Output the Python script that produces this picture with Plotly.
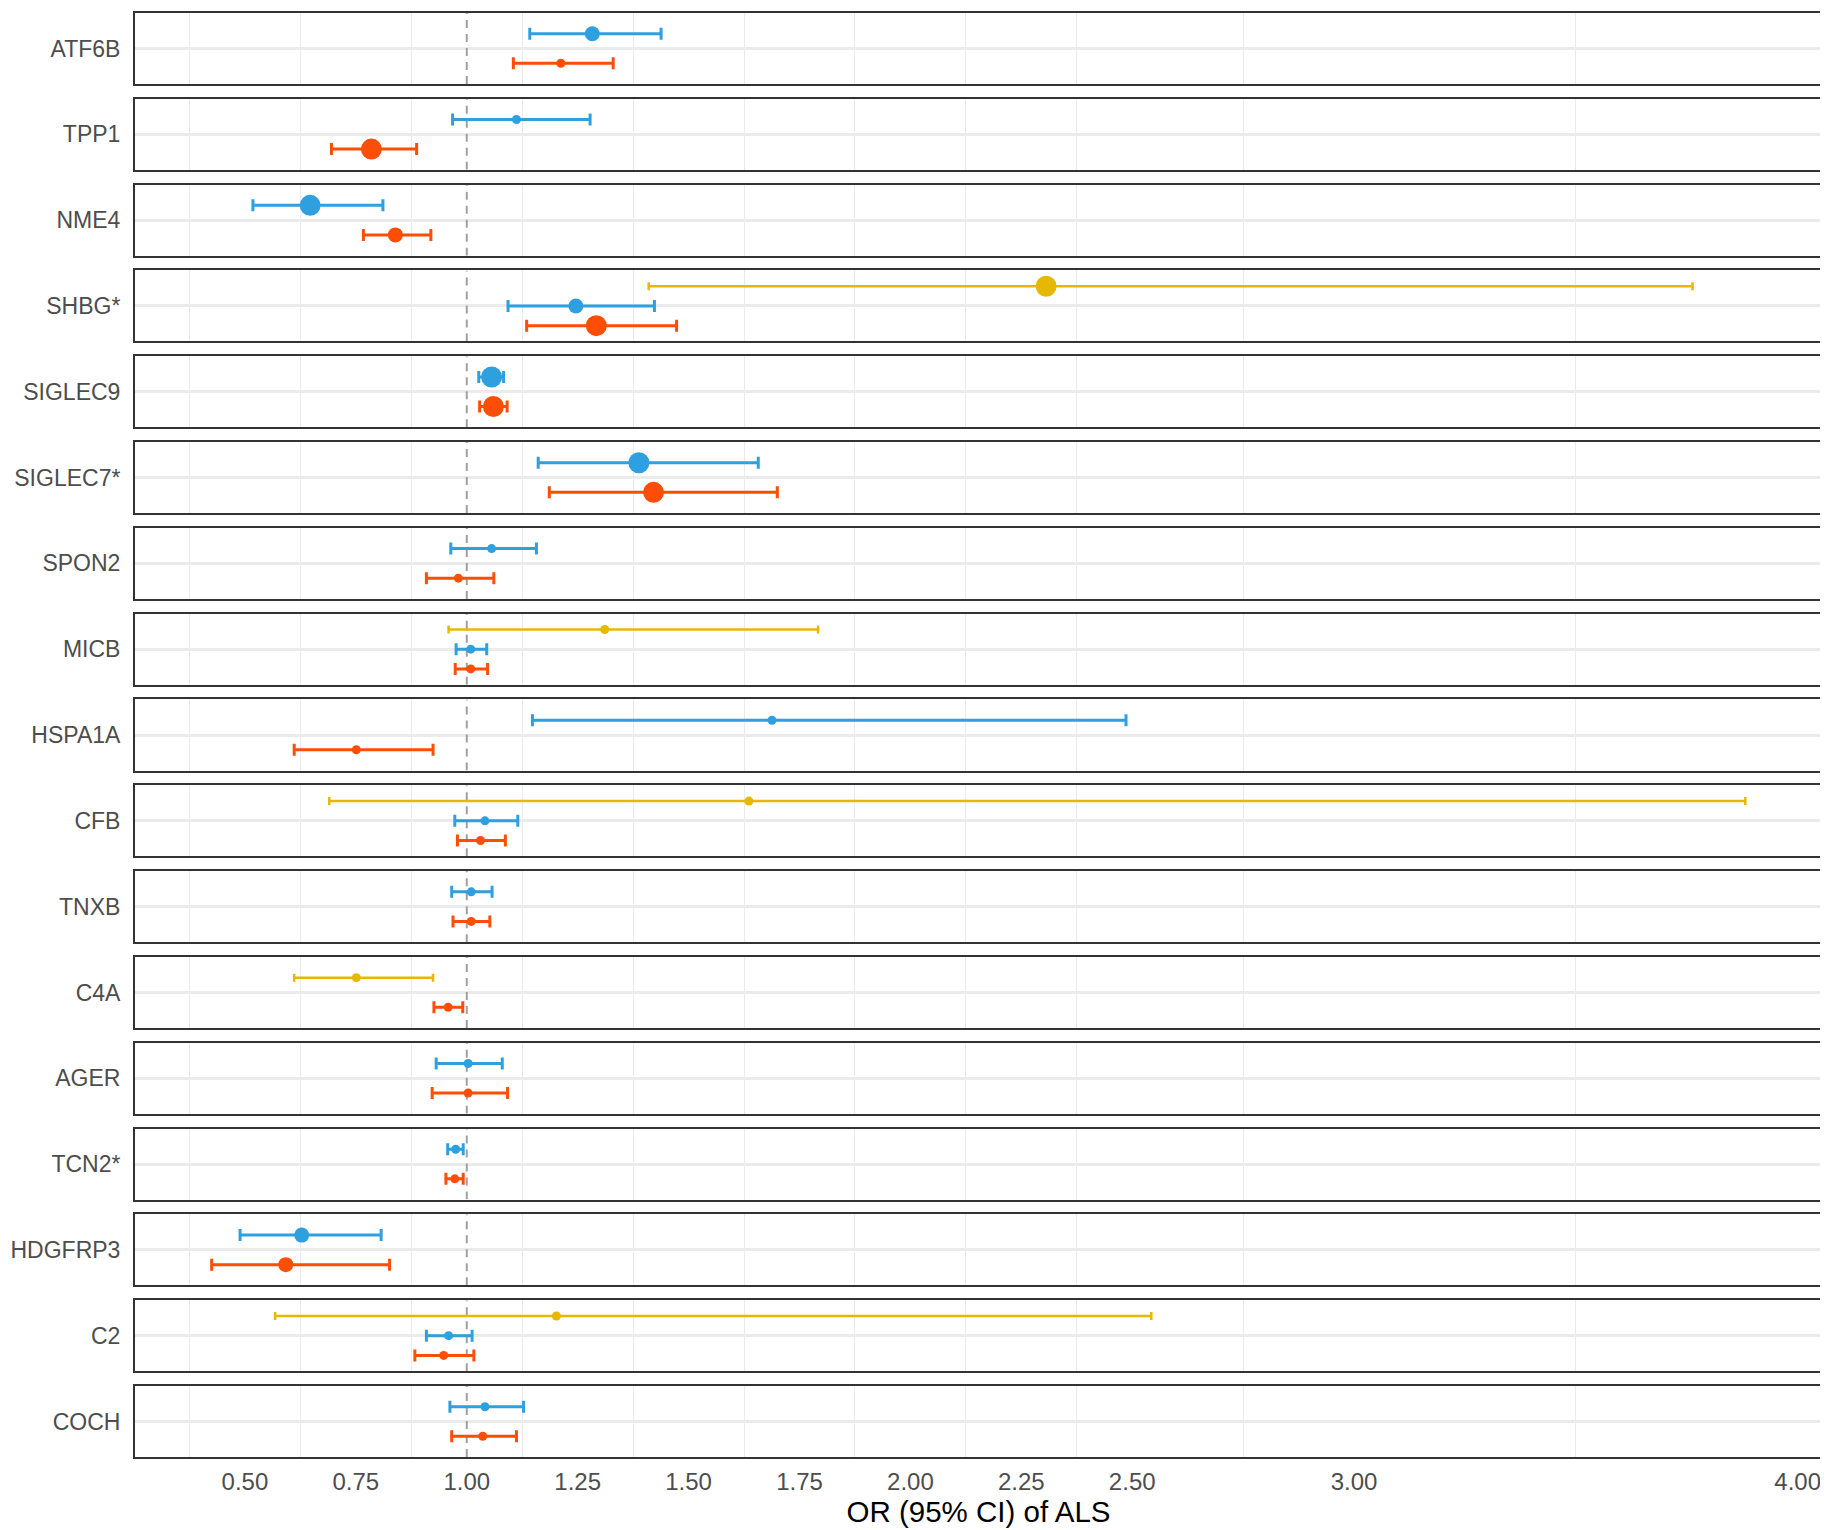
import plotly.graph_objects as go
from plotly.subplots import make_subplots

# ---------------- data ----------------
genes = ["ATF6B", "TPP1", "NME4", "SHBG*", "SIGLEC9", "SIGLEC7*", "SPON2", "MICB",
         "HSPA1A", "CFB", "TNXB", "C4A", "AGER", "TCN2*", "HDGFRP3", "C2", "COCH"]

# series 1 (yellow)
s1_or = [None, None, None, 2.306, None, None, None, 1.311, None, 1.636, None, 0.751, None, None, None, 1.202, None]
s1_lo = [None, None, None, 1.410, None, None, None, 0.959, None, 0.690, None, 0.611, None, None, None, 0.568, None]
s1_hi = [None, None, None, 3.763, None, None, None, 1.792, None, 3.882, None, 0.924, None, None, None, 2.543, None]
s1_tier = [None, None, None, 3, None, None, None, 1, None, 1, None, 1, None, None, None, 1, None]

# series 2 (blue)
s2_or = [1.283, 1.112, 0.647, 1.246, 1.056, 1.388, 1.056, 1.009, 1.688, 1.041, 1.010, None, 1.003, 0.975, 0.628, 0.959, 1.041]
s2_lo = [1.142, 0.968, 0.518, 1.093, 1.027, 1.161, 0.964, 0.976, 1.148, 0.973, 0.966, None, 0.931, 0.957, 0.489, 0.909, 0.962]
s2_hi = [1.438, 1.278, 0.811, 1.423, 1.083, 1.657, 1.157, 1.045, 2.486, 1.115, 1.057, None, 1.080, 0.992, 0.807, 1.012, 1.128]
s2_tier = [2, 1, 3, 2, 3, 3, 1, 1, 1, 1, 1, None, 1, 1, 2, 1, 1]

# series 3 (red)
s3_or = [1.212, 0.785, 0.839, 1.292, 1.060, 1.421, 0.981, 1.009, 0.751, 1.031, 1.010, 0.958, 1.003, 0.973, 0.592, 0.948, 1.036]
s3_lo = [1.105, 0.695, 0.767, 1.135, 1.029, 1.186, 0.909, 0.974, 0.611, 0.979, 0.969, 0.926, 0.922, 0.953, 0.425, 0.883, 0.966]
s3_hi = [1.330, 0.887, 0.919, 1.473, 1.091, 1.700, 1.061, 1.047, 0.924, 1.087, 1.052, 0.991, 1.092, 0.992, 0.826, 1.016, 1.112]
s3_tier = [1, 3, 2, 3, 3, 3, 1, 1, 1, 1, 1, 1, 1, 1, 2, 1, 1]

x_breaks = [0.50, 0.75, 1.00, 1.25, 1.50, 1.75, 2.00, 2.25, 2.50, 3.00, 4.00]
ref_or = 1.0
x_title = "OR (95% CI) of ALS"

# ---------------- styling ----------------
series = [
    dict(name="Series 1", orv=s1_or, lo=s1_lo, hi=s1_hi, tier=s1_tier, color="#E7B800", lw=2.5, cap=4),
    dict(name="Series 2", orv=s2_or, lo=s2_lo, hi=s2_hi, tier=s2_tier, color="#2E9FDF", lw=3, cap=6),
    dict(name="Series 3", orv=s3_or, lo=s3_lo, hi=s3_hi, tier=s3_tier, color="#FC4E07", lw=3, cap=6),
]
tier_px = {1: 9, 2: 15, 3: 21}
FONT = "Liberation Sans, Arial, sans-serif"

all_lo = [v for s in series for v in s["lo"] if v is not None]
all_hi = [v for s in series for v in s["hi"] if v is not None]
dmin, dmax = min(all_lo), max(all_hi)
pad = 0.05 * (dmax - dmin)
x_range = [dmin - pad, dmax + pad]

minor_vals = [(a + b) / 2 for a, b in zip(x_breaks[:-1], x_breaks[1:])]
minor_vals = [x_breaks[0] - (x_breaks[1] - x_breaks[0]) / 2] + minor_vals

n = len(genes)
# page body has an 8px default margin; compensate so the chart lands where the reference has it
W, H = 1820, 1522
mt, mb, ml, mr = 5, 73, 127, 6
plot_h = H - mt - mb
gap_px = 14.8
y_range = [0.4, 1.6]

fig = make_subplots(rows=n, cols=1, shared_xaxes=False,
                    vertical_spacing=gap_px / plot_h)

dodge = 1.0
for gi, g in enumerate(genes):
    row = gi + 1
    # reference line at OR = 1
    fig.add_trace(go.Scatter(
        x=[ref_or, ref_or], y=y_range, mode="lines", showlegend=False, hoverinfo="skip",
        line=dict(color="#A0A0A0", width=2, dash="8px,6px"),
    ), row=row, col=1)
    present = [s for s in series if s["orv"][gi] is not None]
    m = len(present)
    for k, s in enumerate(present):
        off = dodge * ((m - 1) / 2 - k) / m
        orv = s["orv"][gi]
        fig.add_trace(go.Scatter(
            x=[orv], y=[1 + off], mode="markers", name=s["name"], showlegend=False,
            marker=dict(color=s["color"], size=tier_px[s["tier"][gi]], line=dict(width=0)),
            error_x=dict(type="data", symmetric=False,
                         array=[s["hi"][gi] - orv], arrayminus=[orv - s["lo"][gi]],
                         color=s["color"], thickness=s["lw"], width=s["cap"]),
            hovertemplate=g + " " + s["name"] + ": %{x:.3f}<extra></extra>",
        ), row=row, col=1)

    xa = "xaxis" if row == 1 else f"xaxis{row}"
    ya = "yaxis" if row == 1 else f"yaxis{row}"
    last = row == n
    fig.layout[xa].update(
        range=x_range, tickmode="array", tickvals=x_breaks,
        ticktext=[f"{v:.2f}" for v in x_breaks],
        showticklabels=last, showgrid=False, zeroline=False,
        ticks="outside", ticklen=2, tickcolor="rgba(0,0,0,0)",
        showline=True, mirror=True, linecolor="#333333", linewidth=2,
        minor=dict(tickmode="array", tickvals=minor_vals, showgrid=True,
                   gridcolor="#EBEBEB", gridwidth=1, ticks=""),
        tickfont=dict(family=FONT, size=24, color="#4D4D4D"),
        automargin=False,
    )
    if last:
        fig.layout[xa].update(title=dict(text=x_title, standoff=4,
                                          font=dict(family=FONT, size=29.5, color="#000000")))
    fig.layout[ya].update(
        range=y_range, tickmode="array", tickvals=[1], ticktext=[g],
        showgrid=True, gridcolor="#EBEBEB", gridwidth=2.5, zeroline=False,
        ticks="outside", ticklen=8, tickcolor="rgba(0,0,0,0)",
        showline=True, mirror=True, linecolor="#333333", linewidth=2,
        tickfont=dict(family=FONT, size=23, color="#4D4D4D"),
        automargin=False,
    )

fig.update_layout(
    width=W, height=H,
    margin=dict(l=ml, r=mr, t=mt, b=mb, autoexpand=False),
    paper_bgcolor="white", plot_bgcolor="white",
    showlegend=False,
    font=dict(family=FONT),
)

fig.write_html("out.html")
